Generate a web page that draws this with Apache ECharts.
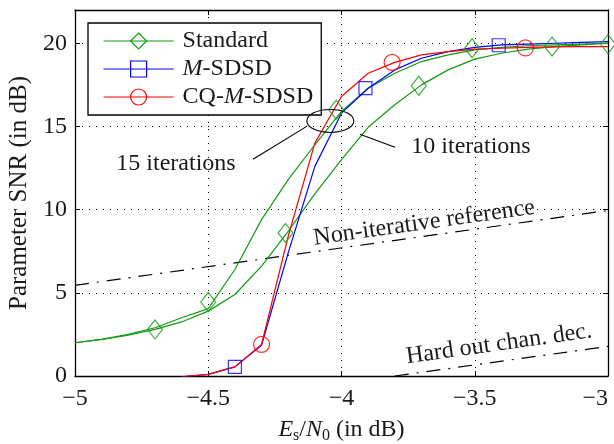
<!DOCTYPE html>
<html><head><meta charset="utf-8">
<script src="https://cdn.jsdelivr.net/npm/echarts@6/dist/echarts.min.js"></script>
<style>html,body{margin:0;padding:0;background:#fff}#c{width:614px;height:444px}</style>
</head><body><div id="c"></div>
<script>
// ---- data ----
const xFull = [-5, -4.9, -4.8, -4.7, -4.6, -4.5, -4.4, -4.3, -4.2, -4.1, -4.0, -3.9, -3.8, -3.7, -3.6, -3.5, -3.4, -3.3, -3.2, -3.1, -3.0];
const yStd15 = [2.0, 2.2, 2.5, 2.9, 3.5, 4.05, 6.4, 9.4, 11.8, 13.9, 15.9, 17.3, 18.2, 18.9, 19.3, 19.6, 19.75, 19.85, 19.9, 19.95, 20.0];
const yStd10 = [2.0, 2.2, 2.45, 2.8, 3.25, 3.9, 4.9, 6.6, 8.7, 10.95, 13.0, 14.95, 16.3, 17.5, 18.4, 19.05, 19.4, 19.65, 19.8, 19.9, 20.0];
const xShort = [-4.6, -4.5, -4.4, -4.3, -4.2, -4.1, -4.0, -3.9, -3.8, -3.7, -3.6, -3.5, -3.4, -3.3, -3.2, -3.1, -3.0];
const yMSDSD = [-0.05, 0.1, 0.55, 1.85, 7.4, 12.6, 15.8, 17.3, 18.4, 19.1, 19.5, 19.75, 19.9, 19.95, 20.0, 20.05, 20.1];
const yCQ = [-0.05, 0.1, 0.55, 1.9, 8.4, 14.0, 16.8, 18.2, 18.85, 19.3, 19.5, 19.65, 19.7, 19.75, 19.78, 19.8, 19.8];
const stdMarkX = [-4.7, -4.5, -4.21, -4.02, -3.71, -3.51, -3.21, -3.0];
const stdMarkY = [2.8, 4.45, 8.6, 16.0, 17.45, 19.7, 19.8, 19.95];
const msdsdMarkX = [-4.4, -3.91, -3.41];
const msdsdMarkY = [0.55, 17.3, 19.88];
const cqMarkX = [-4.3, -3.81, -3.31];
const cqMarkY = [1.9, 18.85, 19.72];
const nonIterX = [-5, -3];
const nonIterY = [5.45, 9.95];
const hardX = [-3.8, -3];
const hardY = [0, 1.78];
const legendNames = ['Standard', 'M-SDSD', 'CQ-M-SDSD'];
const xTickLabels = ['-5', '-4.5', '-4', '-3.5', '-3'];
const yTickLabels = ['0', '5', '10', '15', '20'];

// ---- styling ----
const FONT = '"Liberation Serif","Times New Roman",serif';
const TXT = '#1a1a1a';
const GREEN = '#129a12', BLUE = '#0000ff', RED = '#ff0000';
const LW = 1.2;
const pairs = (xs, ys) => xs.map((x, i) => [x, ys[i]]);
const minus = s => s.replace('-', '\u2212');
const hollow = c => ({color: 'rgba(0,0,0,0)', borderColor: c, borderWidth: LW});

const chart = echarts.init(document.getElementById('c'));

function baseX(pos) {
  return {type: 'value', min: -5, max: -3, interval: 0.5, position: pos,
    axisLine: {show: true, onZero: false, lineStyle: {color: '#000', width: 1.3}},
    axisTick: {show: true, inside: true, length: 5, lineStyle: {color: '#000', width: 1}}};
}
function baseY(pos) {
  return {type: 'value', min: 0, max: 22, interval: 5, position: pos,
    axisLine: {show: true, onZero: false, lineStyle: {color: '#000', width: 1.3}},
    axisTick: {show: true, inside: true, length: 5, lineStyle: {color: '#000', width: 1}}};
}
const tickFmtX = v => { const i = [-5, -4.5, -4, -3.5, -3].indexOf(v); return i < 0 ? '' : minus(xTickLabels[i]); };
const tickFmtY = v => { const i = [0, 5, 10, 15, 20].indexOf(v); return i < 0 ? '' : yTickLabels[i]; };

const lineSeries = (name, xs, ys, color, sym, size) => ({
  type: 'line', name, data: pairs(xs, ys), showSymbol: false, symbol: sym, symbolSize: size,
  lineStyle: {color, width: LW}, itemStyle: hollow(color), silent: true, z: 3
});
const markSeries = (xs, ys, color, sym, size) => ({
  type: 'scatter', data: pairs(xs, ys), symbol: sym, symbolSize: size,
  itemStyle: hollow(color), silent: true, z: 4
});

const option = {
  animation: false,
  grid: {left: 75, right: 6, top: 10, bottom: 68, containLabel: false, outerBoundsMode: 'none'},
  xAxis: [
    Object.assign(baseX('bottom'), {
      axisLabel: {formatter: tickFmtX, fontFamily: FONT, fontSize: 24, color: TXT, margin: 11, alignMaxLabel: 'right'},
      splitLine: {show: true, lineStyle: {color: '#000', type: [1, 6], width: 1}},
      name: '{i|E}{s|s}{r|/}{i|N}{s|0}{r| (in dB)}', nameLocation: 'middle', nameGap: 40,
      nameTextStyle: {fontFamily: FONT, fontSize: 24, color: TXT, rich: {
        i: {fontFamily: FONT, fontSize: 24, fontStyle: 'italic', color: TXT, lineHeight: 28},
        r: {fontFamily: FONT, fontSize: 24, color: TXT, lineHeight: 28},
        s: {fontFamily: FONT, fontSize: 16, color: TXT, lineHeight: 16, verticalAlign: 'bottom'}
      }}
    }),
    Object.assign(baseX('top'), {axisLabel: {show: false}, splitLine: {show: false}})
  ],
  yAxis: [
    Object.assign(baseY('left'), {
      axisLabel: {formatter: tickFmtY, fontFamily: FONT, fontSize: 24, color: TXT, margin: 8},
      splitLine: {show: true, lineStyle: {color: '#000', type: [1, 6], width: 1}},
      name: 'Parameter SNR (in dB)', nameLocation: 'middle', nameGap: 40,
      nameTextStyle: {fontFamily: FONT, fontSize: 25, color: TXT}
    }),
    Object.assign(baseY('right'), {axisLabel: {show: false}, splitLine: {show: false}})
  ],
  legend: {
    orient: 'vertical', left: 88, top: 23, backgroundColor: '#fff',
    borderColor: '#000', borderWidth: 1.3, borderRadius: 0,
    padding: [6, 8, 6, 15], itemWidth: 70, itemHeight: 20, itemGap: 4,
    selectedMode: false,
    formatter: n => n === 'M-SDSD' ? '{i|M}-SDSD' : (n === 'CQ-M-SDSD' ? 'CQ-{i|M}-SDSD' : n),
    textStyle: {fontFamily: FONT, fontSize: 24, color: TXT, lineHeight: 20, padding: [0, 0, 0, 4],
      rich: {i: {fontFamily: FONT, fontSize: 24, fontStyle: 'italic', color: TXT}}},
    data: [
      {name: legendNames[0], itemStyle: hollow(GREEN), lineStyle: {color: GREEN, width: LW}},
      {name: legendNames[1], itemStyle: hollow(BLUE), lineStyle: {color: BLUE, width: LW}},
      {name: legendNames[2], itemStyle: hollow(RED), lineStyle: {color: RED, width: LW}}
    ]
  },
  series: [
    {type: 'line', data: pairs(nonIterX, nonIterY), showSymbol: false, symbol: 'none', silent: true,
      lineStyle: {color: '#000', width: LW, type: [14, 8, 2, 8]}, z: 2},
    {type: 'line', data: pairs(hardX, hardY), showSymbol: false, symbol: 'none', silent: true,
      lineStyle: {color: '#000', width: LW, type: [14, 8, 2, 8]}, z: 2},
    lineSeries(legendNames[0], xFull, yStd15, GREEN, 'diamond', [15, 19]),
    lineSeries(legendNames[0], xFull, yStd10, GREEN, 'diamond', [15, 19]),
    lineSeries(legendNames[1], xShort, yMSDSD, BLUE, 'rect', [13, 13]),
    lineSeries(legendNames[2], xShort, yCQ, RED, 'circle', [16, 16]),
    markSeries(stdMarkX, stdMarkY, GREEN, 'diamond', [15, 19]),
    markSeries(msdsdMarkX, msdsdMarkY, BLUE, 'rect', [13, 13]),
    markSeries(cqMarkX, cqMarkY, RED, 'circle', [16, 16])
  ]
};
chart.setOption(option);

// ---- annotations (placed in data coordinates) ----
const P = (x, y) => chart.convertToPixel({xAxisIndex: 0, yAxisIndex: 0}, [x, y]);
const rot = 8 * Math.PI / 180;
const ellC = P(-4.042, 15.33);
const a1 = P(-4.332, 13.03), a2 = P(-4.129, 15.02);
const b1 = P(-3.931, 14.53), b2 = P(-3.799, 13.75);
const t15 = P(-4.621, 12.79), t10 = P(-3.514, 13.81);
const tNon = P(-3.69, 9.2), tHard = P(-3.409, 1.92);
const txt = (p, s, r) => ({type: 'text', x: p[0], y: p[1], rotation: r || 0, silent: true, z: 10,
  style: {text: s, fontFamily: FONT, fontSize: 24, fill: TXT, align: 'center', verticalAlign: 'middle'}});
chart.setOption({graphic: [
  {type: 'ellipse', shape: {cx: ellC[0], cy: ellC[1], rx: 23.5, ry: 11.5}, silent: true, z: 10,
    style: {fill: 'none', stroke: '#000', lineWidth: 1.1}},
  {type: 'line', shape: {x1: a1[0], y1: a1[1], x2: a2[0], y2: a2[1]}, silent: true, z: 10,
    style: {stroke: '#000', lineWidth: 1.1}},
  {type: 'line', shape: {x1: b1[0], y1: b1[1], x2: b2[0], y2: b2[1]}, silent: true, z: 10,
    style: {stroke: '#000', lineWidth: 1.1}},
  txt(t15, '15 iterations'), txt(t10, '10 iterations'),
  txt(tNon, 'Non-iterative reference', rot), txt(tHard, 'Hard out chan. dec.', rot)
]});
</script>
</body></html>
